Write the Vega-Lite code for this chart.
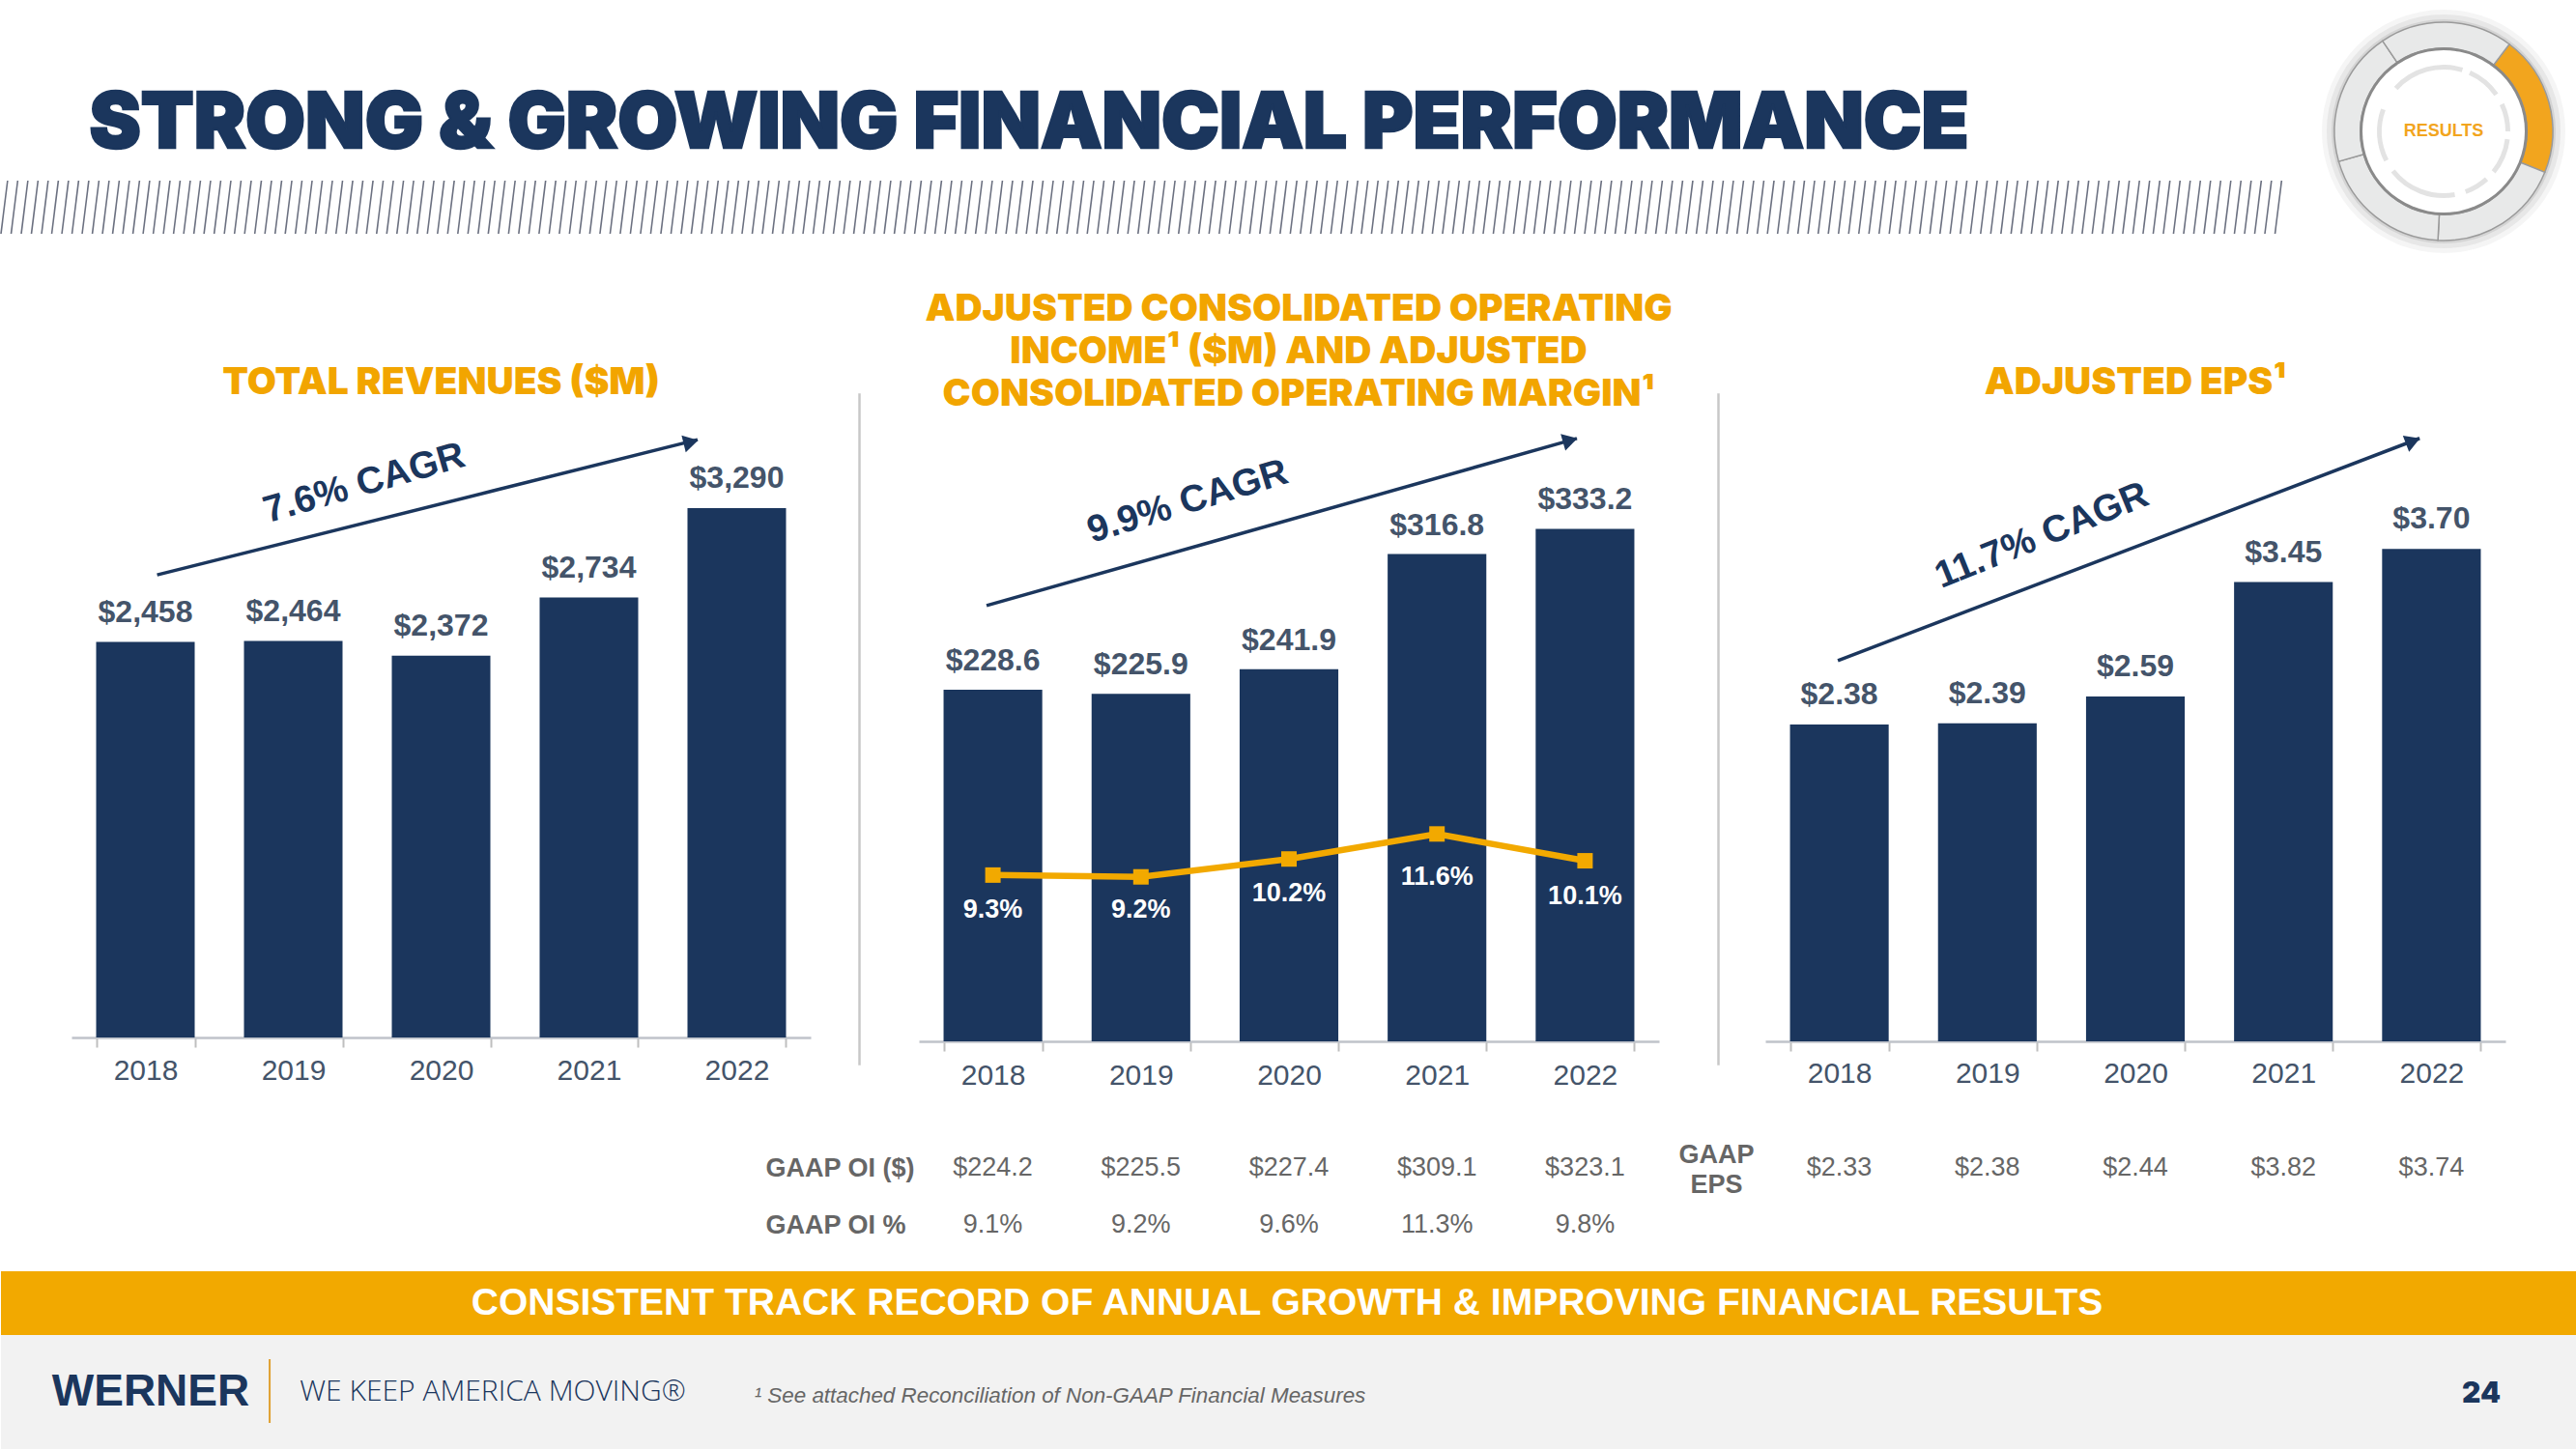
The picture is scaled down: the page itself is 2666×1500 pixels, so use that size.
{
"$schema":"https://vega.github.io/schema/vega-lite/v6.json",
"background":"white","padding":0,"spacing":0,
"config":{"view":{"stroke":null},"font":"Liberation Sans","concat":{"spacing":0}},
"datasets":{
"one":[{"k":"x"}],
"rev":[{"year":"2018","value":2458,"label":"$2,458"},{"year":"2019","value":2464,"label":"$2,464"},{"year":"2020","value":2372,"label":"$2,372"},{"year":"2021","value":2734,"label":"$2,734"},{"year":"2022","value":3290,"label":"$3,290"}],
"oi":[{"year":"2018","value":228.6,"label":"$228.6","margin":9.3,"mlabel":"9.3%","ly":7.35},{"year":"2019","value":225.9,"label":"$225.9","margin":9.2,"mlabel":"9.2%","ly":7.35},{"year":"2020","value":241.9,"label":"$241.9","margin":10.2,"mlabel":"10.2%","ly":8.25},{"year":"2021","value":316.8,"label":"$316.8","margin":11.6,"mlabel":"11.6%","ly":9.2},{"year":"2022","value":333.2,"label":"$333.2","margin":10.1,"mlabel":"10.1%","ly":8.1}],
"eps":[{"year":"2018","value":2.38,"label":"$2.38"},{"year":"2019","value":2.39,"label":"$2.39"},{"year":"2020","value":2.59,"label":"$2.59"},{"year":"2021","value":3.45,"label":"$3.45"},{"year":"2022","value":3.70,"label":"$3.70"}],
"gaapoi":[{"year":"2018","row":"GAAP OI ($)","t":"$224.2"},{"year":"2019","row":"GAAP OI ($)","t":"$225.5"},{"year":"2020","row":"GAAP OI ($)","t":"$227.4"},{"year":"2021","row":"GAAP OI ($)","t":"$309.1"},{"year":"2022","row":"GAAP OI ($)","t":"$323.1"},{"year":"2018","row":"GAAP OI %","t":"9.1%"},{"year":"2019","row":"GAAP OI %","t":"9.2%"},{"year":"2020","row":"GAAP OI %","t":"9.6%"},{"year":"2021","row":"GAAP OI %","t":"11.3%"},{"year":"2022","row":"GAAP OI %","t":"9.8%"}],
"gaapeps":[{"year":"2018","row":"GAAP EPS","t":"$2.33"},{"year":"2019","row":"GAAP EPS","t":"$2.38"},{"year":"2020","row":"GAAP EPS","t":"$2.44"},{"year":"2021","row":"GAAP EPS","t":"$3.82"},{"year":"2022","row":"GAAP EPS","t":"$3.74"}],
"arrowrev":[{"p0":0.579,"v0":2875,"p1":4.235,"v1":3715,"hp":4.19,"hv":3700,"cp":1.98,"cv":3445,"t":"7.6% CAGR"}],
"arrowoi":[{"p0":0.457,"v0":283.3,"p1":4.445,"v1":392,"hp":4.40,"hv":390.8,"cp":1.815,"cv":351,"t":"9.9% CAGR"}],
"arroweps":[{"p0":0.49,"v0":2.86,"p1":4.42,"v1":4.53,"hp":4.375,"hv":4.51,"cp":1.867,"cv":3.80,"t":"11.7% CAGR"}],
"gaugeseg":[{"s":37,"e":112,"c":"gold"},{"s":112,"e":183,"c":"grey"},{"s":183,"e":254,"c":"grey"},{"s":254,"e":326,"c":"grey"},{"s":326,"e":397,"c":"grey"}],
"gaugedash":[{"s":312,"e":377},{"s":384,"e":415},{"s":425,"e":450},{"s":457,"e":489},{"s":498,"e":520},{"s":530,"e":592},{"s":603,"e":650}],
"hatch":[{"a":0,"b":0.65},{"a":1,"b":1.65},{"a":2,"b":2.65},{"a":3,"b":3.65},{"a":4,"b":4.65},{"a":5,"b":5.65},{"a":6,"b":6.65},{"a":7,"b":7.65},{"a":8,"b":8.65},{"a":9,"b":9.65},{"a":10,"b":10.65},{"a":11,"b":11.65},{"a":12,"b":12.65},{"a":13,"b":13.65},{"a":14,"b":14.65},{"a":15,"b":15.65},{"a":16,"b":16.65},{"a":17,"b":17.65},{"a":18,"b":18.65},{"a":19,"b":19.65},{"a":20,"b":20.65},{"a":21,"b":21.65},{"a":22,"b":22.65},{"a":23,"b":23.65},{"a":24,"b":24.65},{"a":25,"b":25.65},{"a":26,"b":26.65},{"a":27,"b":27.65},{"a":28,"b":28.65},{"a":29,"b":29.65},{"a":30,"b":30.65},{"a":31,"b":31.65},{"a":32,"b":32.65},{"a":33,"b":33.65},{"a":34,"b":34.65},{"a":35,"b":35.65},{"a":36,"b":36.65},{"a":37,"b":37.65},{"a":38,"b":38.65},{"a":39,"b":39.65},{"a":40,"b":40.65},{"a":41,"b":41.65},{"a":42,"b":42.65},{"a":43,"b":43.65},{"a":44,"b":44.65},{"a":45,"b":45.65},{"a":46,"b":46.65},{"a":47,"b":47.65},{"a":48,"b":48.65},{"a":49,"b":49.65},{"a":50,"b":50.65},{"a":51,"b":51.65},{"a":52,"b":52.65},{"a":53,"b":53.65},{"a":54,"b":54.65},{"a":55,"b":55.65},{"a":56,"b":56.65},{"a":57,"b":57.65},{"a":58,"b":58.65},{"a":59,"b":59.65},{"a":60,"b":60.65},{"a":61,"b":61.65},{"a":62,"b":62.65},{"a":63,"b":63.65},{"a":64,"b":64.65},{"a":65,"b":65.65},{"a":66,"b":66.65},{"a":67,"b":67.65},{"a":68,"b":68.65},{"a":69,"b":69.65},{"a":70,"b":70.65},{"a":71,"b":71.65},{"a":72,"b":72.65},{"a":73,"b":73.65},{"a":74,"b":74.65},{"a":75,"b":75.65},{"a":76,"b":76.65},{"a":77,"b":77.65},{"a":78,"b":78.65},{"a":79,"b":79.65},{"a":80,"b":80.65},{"a":81,"b":81.65},{"a":82,"b":82.65},{"a":83,"b":83.65},{"a":84,"b":84.65},{"a":85,"b":85.65},{"a":86,"b":86.65},{"a":87,"b":87.65},{"a":88,"b":88.65},{"a":89,"b":89.65},{"a":90,"b":90.65},{"a":91,"b":91.65},{"a":92,"b":92.65},{"a":93,"b":93.65},{"a":94,"b":94.65},{"a":95,"b":95.65},{"a":96,"b":96.65},{"a":97,"b":97.65},{"a":98,"b":98.65},{"a":99,"b":99.65},{"a":100,"b":100.65},{"a":101,"b":101.65},{"a":102,"b":102.65},{"a":103,"b":103.65},{"a":104,"b":104.65},{"a":105,"b":105.65},{"a":106,"b":106.65},{"a":107,"b":107.65},{"a":108,"b":108.65},{"a":109,"b":109.65},{"a":110,"b":110.65},{"a":111,"b":111.65},{"a":112,"b":112.65},{"a":113,"b":113.65},{"a":114,"b":114.65},{"a":115,"b":115.65},{"a":116,"b":116.65},{"a":117,"b":117.65},{"a":118,"b":118.65},{"a":119,"b":119.65},{"a":120,"b":120.65},{"a":121,"b":121.65},{"a":122,"b":122.65},{"a":123,"b":123.65},{"a":124,"b":124.65},{"a":125,"b":125.65},{"a":126,"b":126.65},{"a":127,"b":127.65},{"a":128,"b":128.65},{"a":129,"b":129.65},{"a":130,"b":130.65},{"a":131,"b":131.65},{"a":132,"b":132.65},{"a":133,"b":133.65},{"a":134,"b":134.65},{"a":135,"b":135.65},{"a":136,"b":136.65},{"a":137,"b":137.65},{"a":138,"b":138.65},{"a":139,"b":139.65},{"a":140,"b":140.65},{"a":141,"b":141.65},{"a":142,"b":142.65},{"a":143,"b":143.65},{"a":144,"b":144.65},{"a":145,"b":145.65},{"a":146,"b":146.65},{"a":147,"b":147.65},{"a":148,"b":148.65},{"a":149,"b":149.65},{"a":150,"b":150.65},{"a":151,"b":151.65},{"a":152,"b":152.65},{"a":153,"b":153.65},{"a":154,"b":154.65},{"a":155,"b":155.65},{"a":156,"b":156.65},{"a":157,"b":157.65},{"a":158,"b":158.65},{"a":159,"b":159.65},{"a":160,"b":160.65},{"a":161,"b":161.65},{"a":162,"b":162.65},{"a":163,"b":163.65},{"a":164,"b":164.65},{"a":165,"b":165.65},{"a":166,"b":166.65},{"a":167,"b":167.65},{"a":168,"b":168.65},{"a":169,"b":169.65},{"a":170,"b":170.65},{"a":171,"b":171.65},{"a":172,"b":172.65},{"a":173,"b":173.65},{"a":174,"b":174.65},{"a":175,"b":175.65},{"a":176,"b":176.65},{"a":177,"b":177.65},{"a":178,"b":178.65},{"a":179,"b":179.65},{"a":180,"b":180.65},{"a":181,"b":181.65},{"a":182,"b":182.65},{"a":183,"b":183.65},{"a":184,"b":184.65},{"a":185,"b":185.65},{"a":186,"b":186.65},{"a":187,"b":187.65},{"a":188,"b":188.65},{"a":189,"b":189.65},{"a":190,"b":190.65},{"a":191,"b":191.65},{"a":192,"b":192.65},{"a":193,"b":193.65},{"a":194,"b":194.65},{"a":195,"b":195.65},{"a":196,"b":196.65},{"a":197,"b":197.65},{"a":198,"b":198.65},{"a":199,"b":199.65},{"a":200,"b":200.65},{"a":201,"b":201.65},{"a":202,"b":202.65},{"a":203,"b":203.65},{"a":204,"b":204.65},{"a":205,"b":205.65},{"a":206,"b":206.65},{"a":207,"b":207.65},{"a":208,"b":208.65},{"a":209,"b":209.65},{"a":210,"b":210.65},{"a":211,"b":211.65},{"a":212,"b":212.65},{"a":213,"b":213.65},{"a":214,"b":214.65},{"a":215,"b":215.65},{"a":216,"b":216.65},{"a":217,"b":217.65},{"a":218,"b":218.65},{"a":219,"b":219.65},{"a":220,"b":220.65},{"a":221,"b":221.65},{"a":222,"b":222.65},{"a":223,"b":223.65},{"a":224,"b":224.65}]
},
"vconcat":[
{"hconcat":[
 {"width":2412,"height":301,"data":{"name":"one"},"layer":[
  {"data":{"name":"hatch"},"mark":{"type":"rule","color":"#6b7080","strokeWidth":1.6},"encoding":{
    "x":{"field":"a","type":"quantitative","axis":null,"scale":{"domain":[0,225],"range":[0,2364]}},
    "x2":{"field":"b"},
    "y":{"datum":0,"type":"quantitative","axis":null,"scale":{"domain":[0,1],"range":[242,187]}},
    "y2":{"datum":1}}},
  {"mark":{"type":"text","text":"STRONG & GROWING FINANCIAL PERFORMANCE","font":"Inter","fontWeight":900,"fontSize":80,"color":"#1B365D","stroke":"#1B365D","strokeWidth":2.5,"baseline":"middle","dx":-142,"dy":-21.5}}
 ],"resolve":{"scale":{"x":"independent","y":"independent"}}},
 {"width":232,"height":272,"layer":[
  {"data":{"name":"one"},"mark":{"type":"arc","radius":126,"radius2":0,"color":"#808080","opacity":0.08},"encoding":{}},
  {"data":{"name":"one"},"mark":{"type":"arc","radius":121,"radius2":0,"color":"#808080","opacity":0.12},"encoding":{}},
  {"data":{"name":"one"},"mark":{"type":"arc","radius":116,"radius2":0,"color":"#808080","opacity":0.18},"encoding":{}},
  {"data":{"name":"gaugeseg"},"mark":{"type":"arc","radius":113,"radius2":86,"stroke":"#9a9a9a","strokeWidth":1.5},"encoding":{
    "theta":{"field":"s","type":"quantitative","scale":{"domain":[0,360],"range":[0,6.28318]}},
    "theta2":{"field":"e"},
    "color":{"field":"c","type":"nominal","legend":null,"scale":{"domain":["gold","grey"],"range":["#F2A51E","#E8E9E9"]}}}},
  {"data":{"name":"one"},"mark":{"type":"arc","radius":87,"radius2":0,"color":"#8a8a8a"},"encoding":{}},
  {"data":{"name":"one"},"mark":{"type":"arc","radius":84,"radius2":0,"color":"#ffffff"},"encoding":{}},
  {"data":{"name":"gaugedash"},"mark":{"type":"arc","radius":69,"radius2":64,"color":"#E3E3E3"},"encoding":{
    "theta":{"field":"s","type":"quantitative","scale":{"domain":[0,360],"range":[0,6.28318]}},
    "theta2":{"field":"e"}}},
  {"data":{"name":"one"},"mark":{"type":"text","text":"RESULTS","fontWeight":"bold","fontSize":18,"color":"#F2A51E"}}
 ],"resolve":{"scale":{"theta":"independent","color":"independent"}}}
],"spacing":0,"bounds":"flush"},
{"hconcat":[
 {"width":73,"height":10,"data":{"name":"one"},"mark":{"type":"text","text":""}},
 {"width":765,"height":908,
  "title":{"text":"TOTAL REVENUES ($M)","font":"Inter","fontWeight":900,"fontSize":39,"color":"#F2A500","anchor":"middle","offset":-8},
  "layer":[
  {"data":{"name":"rev"},"mark":{"type":"bar","color":"#1B365D"},"encoding":{
    "x":{"field":"year","type":"nominal","scale":{"paddingInner":0.3333,"paddingOuter":0.1667},"axis":{"title":null,"labelAngle":0,"offset":-242,"tickBand":"extent","tickSize":10,"tickColor":"#BFBFBF","tickWidth":2,"domainColor":"#BFC3CA","domainWidth":2.5,"labelColor":"#44546A","labelFontSize":30,"labelPadding":9,"labelFont":"Liberation Sans"}},
    "y":{"field":"value","type":"quantitative","axis":null,"scale":{"domain":[0,3998],"range":[666,0]}}}},
  {"data":{"name":"rev"},"mark":{"type":"text","fontSize":32,"fontWeight":"bold","color":"#44546A","baseline":"middle","dy":-31},"encoding":{
    "x":{"field":"year","type":"nominal","axis":null,"scale":{"paddingInner":0.3333,"paddingOuter":0.1667}},
    "y":{"field":"value","type":"quantitative","axis":null,"scale":{"domain":[0,3998],"range":[666,0]}},
    "text":{"field":"label"}}},
  {"data":{"name":"arrowrev"},"mark":{"type":"rule","color":"#1B365D","strokeWidth":3.5},"encoding":{
    "x":{"field":"p0","type":"quantitative","axis":null,"scale":{"domain":[0,5],"range":[0,765]}},"x2":{"field":"p1"},
    "y":{"field":"v0","type":"quantitative","axis":null,"scale":{"domain":[0,3998],"range":[666,0]}},"y2":{"field":"v1"}}},
  {"data":{"name":"arrowrev"},"mark":{"type":"point","shape":"triangle-right","filled":true,"opacity":1,"color":"#1B365D","size":320,"angle":-14},"encoding":{
    "x":{"field":"hp","type":"quantitative","axis":null,"scale":{"domain":[0,5],"range":[0,765]}},
    "y":{"field":"hv","type":"quantitative","axis":null,"scale":{"domain":[0,3998],"range":[666,0]}}}},
  {"data":{"name":"arrowrev"},"mark":{"type":"text","fontSize":39,"fontWeight":"bold","color":"#1B365D","angle":-16,"baseline":"middle"},"encoding":{
    "x":{"field":"cp","type":"quantitative","axis":null,"scale":{"domain":[0,5],"range":[0,765]}},
    "y":{"field":"cv","type":"quantitative","axis":null,"scale":{"domain":[0,3998],"range":[666,0]}},
    "text":{"field":"t"}}}
  ],"resolve":{"scale":{"x":"independent","y":"independent"},"axis":{"x":"independent","y":"independent"}}},
 {"width":50,"height":10,"data":{"name":"one"},"mark":{"type":"text","text":""}},
 {"width":1,"height":694,"view":{"stroke":"#C8C8C8","strokeWidth":1.5},"data":{"name":"one"},"mark":{"type":"text","text":""}},
 {"width":61,"height":10,"data":{"name":"one"},"mark":{"type":"text","text":""}},
 {"width":766,"height":908,
  "title":{"text":["ADJUSTED CONSOLIDATED OPERATING","INCOME¹ ($M) AND ADJUSTED","CONSOLIDATED OPERATING MARGIN¹"],"font":"Inter","fontWeight":900,"fontSize":39,"lineHeight":44,"color":"#F2A500","anchor":"middle","offset":-20,"dx":10},
  "layer":[
  {"data":{"name":"oi"},"mark":{"type":"bar","color":"#1B365D"},"encoding":{
    "x":{"field":"year","type":"nominal","scale":{"paddingInner":0.3333,"paddingOuter":0.1667},"axis":{"title":null,"labelAngle":0,"offset":-238,"tickBand":"extent","tickSize":10,"tickColor":"#BFBFBF","tickWidth":2,"domainColor":"#BFC3CA","domainWidth":2.5,"labelColor":"#44546A","labelFontSize":30,"labelPadding":10,"labelFont":"Liberation Sans"}},
    "y":{"field":"value","type":"quantitative","axis":null,"scale":{"domain":[0,420.8],"range":[670,0]}}}},
  {"data":{"name":"oi"},"mark":{"type":"text","fontSize":32,"fontWeight":"bold","color":"#44546A","baseline":"middle","dy":-30},"encoding":{
    "x":{"field":"year","type":"nominal","axis":null,"scale":{"paddingInner":0.3333,"paddingOuter":0.1667}},
    "y":{"field":"value","type":"quantitative","axis":null,"scale":{"domain":[0,420.8],"range":[670,0]}},
    "text":{"field":"label"}}},
  {"data":{"name":"oi"},"mark":{"type":"line","color":"#F2A900","strokeWidth":6.5},"encoding":{
    "x":{"field":"year","type":"nominal","axis":null,"scale":{"paddingInner":0.3333,"paddingOuter":0.1667}},
    "y":{"field":"margin","type":"quantitative","axis":null,"scale":{"domain":[0,36.2],"range":[670,0]}}}},
  {"data":{"name":"oi"},"mark":{"type":"point","shape":"square","filled":true,"opacity":1,"color":"#F2A900","size":256},"encoding":{
    "x":{"field":"year","type":"nominal","axis":null,"scale":{"paddingInner":0.3333,"paddingOuter":0.1667}},
    "y":{"field":"margin","type":"quantitative","axis":null,"scale":{"domain":[0,36.2],"range":[670,0]}}}},
  {"data":{"name":"oi"},"mark":{"type":"text","fontSize":27,"fontWeight":"bold","color":"#FFFFFF","baseline":"middle"},"encoding":{
    "x":{"field":"year","type":"nominal","axis":null,"scale":{"paddingInner":0.3333,"paddingOuter":0.1667}},
    "y":{"field":"ly","type":"quantitative","axis":null,"scale":{"domain":[0,36.2],"range":[670,0]}},
    "text":{"field":"mlabel"}}},
  {"data":{"name":"arrowoi"},"mark":{"type":"rule","color":"#1B365D","strokeWidth":3.5},"encoding":{
    "x":{"field":"p0","type":"quantitative","axis":null,"scale":{"domain":[0,5],"range":[0,766]}},"x2":{"field":"p1"},
    "y":{"field":"v0","type":"quantitative","axis":null,"scale":{"domain":[0,420.8],"range":[670,0]}},"y2":{"field":"v1"}}},
  {"data":{"name":"arrowoi"},"mark":{"type":"point","shape":"triangle-right","filled":true,"opacity":1,"color":"#1B365D","size":320,"angle":-16},"encoding":{
    "x":{"field":"hp","type":"quantitative","axis":null,"scale":{"domain":[0,5],"range":[0,766]}},
    "y":{"field":"hv","type":"quantitative","axis":null,"scale":{"domain":[0,420.8],"range":[670,0]}}}},
  {"data":{"name":"arrowoi"},"mark":{"type":"text","fontSize":39,"fontWeight":"bold","color":"#1B365D","angle":-17,"baseline":"middle"},"encoding":{
    "x":{"field":"cp","type":"quantitative","axis":null,"scale":{"domain":[0,5],"range":[0,766]}},
    "y":{"field":"cv","type":"quantitative","axis":null,"scale":{"domain":[0,420.8],"range":[670,0]}},
    "text":{"field":"t"}}},
  {"data":{"name":"gaapoi"},"mark":{"type":"text","fontSize":27,"color":"#666666","baseline":"middle"},"encoding":{
    "x":{"field":"year","type":"nominal","axis":null,"scale":{"paddingInner":0.3333,"paddingOuter":0.1667}},
    "y":{"field":"row","type":"ordinal","title":null,"scale":{"type":"point","domain":["GAAP OI ($)","GAAP OI %"],"range":[801,860],"padding":0},"axis":{"domain":false,"ticks":false,"labelAlign":"left","labelPadding":159,"labelFontSize":27,"labelFontWeight":"bold","labelColor":"#666666","labelFont":"Liberation Sans"}},
    "text":{"field":"t"}}}
  ],"resolve":{"scale":{"x":"independent","y":"independent"},"axis":{"x":"independent","y":"independent"}}},
 {"width":61,"height":10,"data":{"name":"one"},"mark":{"type":"text","text":""}},
 {"width":1,"height":694,"view":{"stroke":"#C8C8C8","strokeWidth":1.5},"data":{"name":"one"},"mark":{"type":"text","text":""}},
 {"width":48,"height":10,"data":{"name":"one"},"mark":{"type":"text","text":""}},
 {"width":766,"height":908,
  "title":{"text":"ADJUSTED EPS¹","font":"Inter","fontWeight":900,"fontSize":39,"color":"#F2A500","anchor":"middle","offset":-8},
  "layer":[
  {"data":{"name":"eps"},"mark":{"type":"bar","color":"#1B365D"},"encoding":{
    "x":{"field":"year","type":"nominal","scale":{"paddingInner":0.3333,"paddingOuter":0.1667},"axis":{"title":null,"labelAngle":0,"offset":-238,"tickBand":"extent","tickSize":10,"tickColor":"#BFBFBF","tickWidth":2,"domainColor":"#BFC3CA","domainWidth":2.5,"labelColor":"#44546A","labelFontSize":30,"labelPadding":8,"labelFont":"Liberation Sans"}},
    "y":{"field":"value","type":"quantitative","axis":null,"scale":{"domain":[0,4.862],"range":[670,0]}}}},
  {"data":{"name":"eps"},"mark":{"type":"text","fontSize":32,"fontWeight":"bold","color":"#44546A","baseline":"middle","dy":-31},"encoding":{
    "x":{"field":"year","type":"nominal","axis":null,"scale":{"paddingInner":0.3333,"paddingOuter":0.1667}},
    "y":{"field":"value","type":"quantitative","axis":null,"scale":{"domain":[0,4.862],"range":[670,0]}},
    "text":{"field":"label"}}},
  {"data":{"name":"arroweps"},"mark":{"type":"rule","color":"#1B365D","strokeWidth":3.5},"encoding":{
    "x":{"field":"p0","type":"quantitative","axis":null,"scale":{"domain":[0,5],"range":[0,766]}},"x2":{"field":"p1"},
    "y":{"field":"v0","type":"quantitative","axis":null,"scale":{"domain":[0,4.862],"range":[670,0]}},"y2":{"field":"v1"}}},
  {"data":{"name":"arroweps"},"mark":{"type":"point","shape":"triangle-right","filled":true,"opacity":1,"color":"#1B365D","size":320,"angle":-21},"encoding":{
    "x":{"field":"hp","type":"quantitative","axis":null,"scale":{"domain":[0,5],"range":[0,766]}},
    "y":{"field":"hv","type":"quantitative","axis":null,"scale":{"domain":[0,4.862],"range":[670,0]}}}},
  {"data":{"name":"arroweps"},"mark":{"type":"text","fontSize":39,"fontWeight":"bold","color":"#1B365D","angle":-22,"baseline":"middle"},"encoding":{
    "x":{"field":"cp","type":"quantitative","axis":null,"scale":{"domain":[0,5],"range":[0,766]}},
    "y":{"field":"cv","type":"quantitative","axis":null,"scale":{"domain":[0,4.862],"range":[670,0]}},
    "text":{"field":"t"}}},
  {"data":{"name":"gaapeps"},"mark":{"type":"text","fontSize":27,"color":"#666666","baseline":"middle"},"encoding":{
    "x":{"field":"year","type":"nominal","axis":null,"scale":{"paddingInner":0.3333,"paddingOuter":0.1667}},
    "y":{"field":"row","type":"ordinal","title":null,"scale":{"type":"point","domain":["GAAP EPS"],"range":[801,801],"padding":0},"axis":{"domain":false,"ticks":false,"labelAlign":"center","labelPadding":51,"labelOffset":-14,"labelFontSize":27,"labelFontWeight":"bold","labelColor":"#666666","labelFont":"Liberation Sans","labelExpr":"split(datum.label,' ')","labelLineHeight":31}},
    "text":{"field":"t"}}}
  ],"resolve":{"scale":{"x":"independent","y":"independent"},"axis":{"x":"independent","y":"independent"}}}
],"spacing":0,"bounds":"flush"},
{"width":2666,"height":66,"view":{"fill":"#F2A900"},"data":{"name":"one"},"mark":{"type":"text","text":"CONSISTENT TRACK RECORD OF ANNUAL GROWTH & IMPROVING FINANCIAL RESULTS","fontSize":39,"fontWeight":"bold","color":"#FFFFFF","dx":-2}},
{"hconcat":[
 {"width":310,"height":118,"view":{"fill":"#F2F2F2"},"layer":[
   {"data":{"name":"one"},"mark":{"type":"rule","color":"#E0A030","strokeWidth":2},"encoding":{
     "x":{"datum":0.897,"type":"quantitative","axis":null,"scale":{"domain":[0,1],"range":[0,310]}},
     "y":{"datum":0,"type":"quantitative","axis":null,"scale":{"domain":[0,1],"range":[91,25]}},"y2":{"datum":1}}},
   {"data":{"name":"one"},"mark":{"type":"text","text":"WERNER","fontSize":46,"fontWeight":"bold","color":"#1B365D"}}
 ]},
 {"width":398,"height":118,"view":{"fill":"#F2F2F2"},"data":{"name":"one"},"mark":{"type":"text","text":"WE KEEP AMERICA MOVING®","font":"Open Sans","fontSize":30,"fontWeight":300,"color":"#1B365D"}},
 {"width":776,"height":118,"view":{"fill":"#F2F2F2"},"data":{"name":"one"},"mark":{"type":"text","text":"¹ See attached Reconciliation of Non-GAAP Financial Measures","fontSize":22.4,"fontStyle":"italic","color":"#666666","dy":3.5}},
 {"width":984,"height":118,"view":{"fill":"#F2F2F2"},"data":{"name":"one"},"mark":{"type":"text","text":""}},
 {"width":198,"height":118,"view":{"fill":"#F2F2F2"},"data":{"name":"one"},"mark":{"type":"text","text":"24","font":"Inter","fontWeight":900,"fontSize":30,"color":"#1B365D","dy":2}}
],"spacing":0,"bounds":"flush"}
]}
